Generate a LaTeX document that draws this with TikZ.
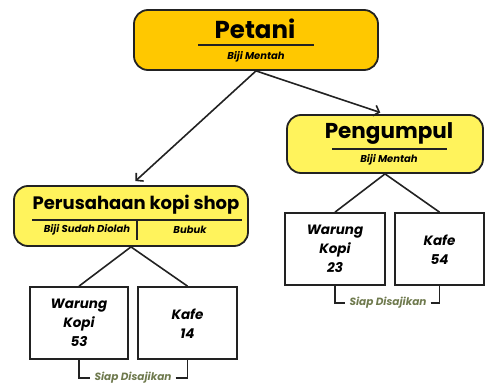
\documentclass[tikz,border=0pt]{standalone}
\usepackage{fontspec}
\setmainfont{Poppins}[BoldFont={Poppins Bold},BoldItalicFont={Poppins Bold Italic}]
\usetikzlibrary{arrows.meta,calc}
\definecolor{gold}{HTML}{FFC800}
\definecolor{paley}{HTML}{FFF35C}
\definecolor{olive}{HTML}{6F7A4E}
\definecolor{edge}{HTML}{222222}
\begin{document}
\begin{tikzpicture}[x=1pt,y=-1pt,
  head/.style={draw=edge,line width=1.8pt,rounded corners=14pt,inner sep=0pt},
  leaf/.style={draw=edge,line width=1.7pt,fill=white,inner sep=0pt,minimum height=72pt},
  ttl/.style={font=\bfseries,inner sep=0pt},
  sub/.style={font=\bfseries\itshape\fontsize{10}{11}\selectfont,inner sep=0pt},
  leaftxt/.style={font=\bfseries\itshape\fontsize{13.5}{19}\selectfont,align=center},
  siap/.style={font=\bfseries\itshape\fontsize{10.5}{12}\selectfont,text=olive,inner sep=4pt},
  conn/.style={draw=edge,line width=1.6pt},
  arr/.style={conn,-{Straight Barb[length=5pt,width=11pt,line width=1.6pt]}},
  rule/.style={draw=edge,line width=1.1pt}]
\useasboundingbox (0,0) rectangle (486,385);
% heads
\node[head,fill=gold,minimum width=244pt,minimum height=60pt] (petani) at (256,40) {};
\node[head,fill=paley,minimum width=234pt,minimum height=60pt] (perus) at (131,216) {};
\node[head,fill=paley,minimum width=196pt,minimum height=58pt] (peng) at (385,144) {};
% titles
\node[ttl,font=\bfseries\fontsize{24.5}{28}\selectfont] (tpet) at (255,29) {Petani};
\draw[rule] ($(petani.center)+(-58,5)$) coordinate (pa) -- ($(petani.center)+(58,5)$) coordinate (pb);
\node[sub] (spet) at (256,57) {Biji Mentah};
\node[ttl,font=\bfseries\fontsize{18}{21}\selectfont] (tperus) at (136,205) {Perusahaan kopi shop};
\draw[rule] ($(perus.center)+(-99,4)$) -- ($(perus.center)+(111,4)$);
\draw[rule] ($(perus.center)+(6,4)$) -- ($(perus.center)+(6,24)$);
\node[sub] (s1) at (87,230) {Biji Sudah Diolah};
\node[sub] (s2) at (190,230) {Bubuk};
\node[ttl,font=\bfseries\fontsize{21.5}{24}\selectfont] (tpeng) at (389,134) {Pengumpul};
\draw[rule] ($(peng.center)+(-53,5)$) -- ($(peng.center)+(62,5)$);
\node[sub] (speng) at (389,160) {Biji Mentah};
% leaves
\node[leaf,minimum width=98pt] (wk1) at (79,323) {};
\node[leaftxt] at (wk1.center) {Warung\\Kopi\\53};
\node[leaf,minimum width=99pt] (k1) at (187.5,323) {};
\node[leaftxt,yshift=-1pt] at (k1.center) {Kafe\\14};
\node[leaf,minimum width=100pt] (wk2) at (335,249) {};
\node[leaftxt] at (wk2.center) {Warung\\Kopi\\23};
\node[leaf,minimum width=89pt] (k2) at (439.5,249) {};
\node[leaftxt,yshift=-1pt] at (k2.center) {Kafe\\54};
% arrows
\draw[arr,shorten >=6pt] (petani.south) -- (perus.north);
\draw[arr,shorten >=5pt] (petani.south) -- (peng.north);
% tree lines
\draw[conn] (perus.south) -- (wk1.north);
\draw[conn] (perus.south) -- (k1.north);
\draw[conn] (peng.south) -- (wk2.north);
\draw[conn] (peng.south) -- (k2.north);
% brackets
\node[siap] (sj1) at (133,378) {Siap Disajikan};
\draw[conn] (wk1.south) |- (sj1.west);
\draw[conn] (sj1.east) -| (k1.south);
\node[siap] (sj2) at (388,303) {Siap Disajikan};
\draw[conn] (wk2.south) |- (sj2.west);
\draw[conn] (sj2.east) -| (k2.south);
\end{tikzpicture}
\end{document}
